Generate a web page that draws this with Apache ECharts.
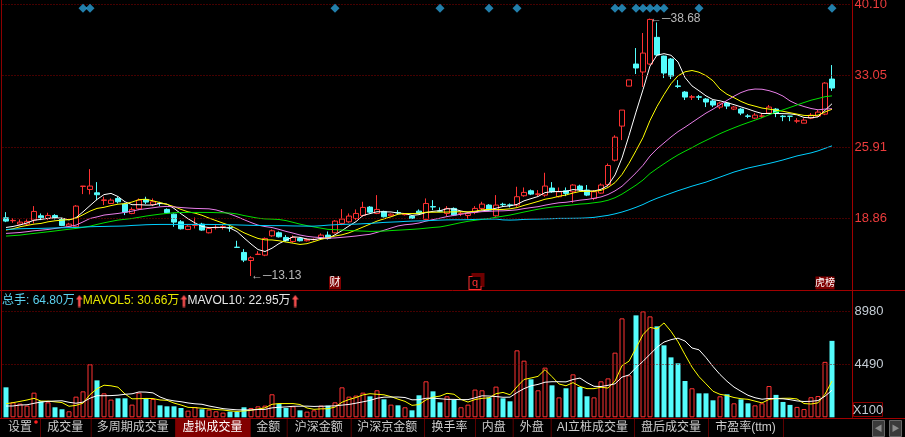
<!DOCTYPE html>
<html><head><meta charset="utf-8">
<script src="https://cdn.jsdelivr.net/npm/echarts@6/dist/echarts.min.js"></script>
<style>html,body{margin:0;padding:0;background:#000;overflow:hidden}#c{width:905px;height:437px}</style>
</head><body><div id="c"></div>
<script>
// ---- data ----
const openP = [18.91,18.62,18.28,18.28,18.68,19.11,18.84,19.14,18.78,18.08,
18.02,22.02,21.72,21.39,20.64,20.33,20.83,20.27,19.34,19.80,
20.73,20.23,20.35,19.74,19.27,18.51,17.75,18.16,18.28,17.42,
17.93,18.00,17.94,15.99,15.47,14.67,15.27,15.20,17.12,17.42,
16.96,16.56,16.86,16.63,16.74,16.86,17.19,17.42,18.35,18.51,
18.84,19.14,19.97,19.34,19.54,19.11,19.43,19.22,19.08,19.57,
18.75,20.02,19.59,19.34,19.84,19.32,19.14,19.44,19.84,20.17,
19.11,20.25,20.19,20.17,21.10,21.59,21.24,21.16,21.86,21.00,
21.59,21.49,22.06,21.66,20.83,21.36,22.20,24.63,28.01,31.98,
34.17,33.38,34.17,36.82,34.96,34.67,32.00,31.39,30.88,30.92,
30.70,30.50,29.90,30.30,29.70,29.70,29.02,28.80,28.98,29.30,
29.70,29.00,29.00,28.50,28.30,28.80,29.00,29.20,32.68];
const closeP = [18.58,18.65,18.48,18.55,19.54,18.91,19.14,18.94,18.15,18.28,
20.07,22.06,22.06,21.20,20.68,20.66,20.50,19.47,19.74,20.66,
20.47,20.50,20.32,19.41,18.48,17.82,18.08,18.20,17.69,17.85,
17.96,18.03,17.90,15.97,14.71,14.94,15.30,16.86,17.62,17.02,
16.63,16.96,16.63,16.76,16.77,17.19,16.86,18.58,18.78,19.08,
19.34,19.94,19.47,19.74,19.01,19.27,19.40,19.25,18.84,19.34,
20.33,19.98,19.56,19.84,19.18,19.35,19.34,19.84,20.27,19.67,
20.17,20.21,20.15,21.00,21.43,21.26,21.28,22.06,21.49,21.49,
21.33,22.16,21.72,21.16,21.49,22.16,24.10,26.91,29.60,32.60,
33.78,35.26,38.60,35.07,33.28,32.98,31.95,30.89,30.92,30.88,
30.40,30.10,30.30,30.00,29.90,29.30,28.98,29.10,29.02,29.90,
29.30,28.95,28.98,28.54,28.60,29.10,29.40,32.28,31.79];
const highP = [19.47,18.88,18.75,18.75,20.07,19.34,19.41,19.27,18.91,18.41,
20.17,22.06,23.74,22.45,21.00,20.83,21.00,20.40,19.94,20.83,
21.00,20.83,20.50,19.84,19.34,18.68,18.18,18.94,18.41,17.95,
18.18,18.18,18.08,16.63,15.80,15.10,15.60,16.96,17.75,17.55,
17.19,17.16,16.96,16.86,16.86,17.36,17.55,18.68,19.77,19.34,
19.74,20.50,20.07,21.16,19.61,19.34,19.67,19.34,19.14,19.74,
20.83,20.66,19.94,20.07,19.94,19.54,19.44,20.07,20.50,20.27,
21.16,20.40,20.33,21.99,21.92,21.72,21.66,23.38,22.45,21.92,
21.92,22.25,22.19,22.16,21.66,22.32,24.30,27.10,29.60,32.60,
35.76,37.25,38.68,38.30,35.00,34.77,32.58,31.49,31.10,31.10,
30.80,30.60,30.40,30.40,30.00,29.80,29.20,29.30,29.30,30.10,
29.80,29.10,29.00,28.80,28.80,29.30,29.60,32.38,34.07];
const lowP = [18.48,18.41,18.18,18.18,18.35,18.68,18.68,18.75,18.08,18.02,
17.95,21.26,21.23,20.66,20.17,20.27,20.33,19.18,19.27,19.67,
20.27,20.07,20.07,19.34,18.02,17.75,17.69,17.85,17.62,17.36,
17.75,17.75,17.52,15.97,14.51,13.13,15.27,15.10,17.02,16.96,
16.53,16.43,16.56,16.56,16.66,16.76,16.76,17.36,18.18,18.41,
18.68,19.01,19.34,19.27,18.94,19.08,19.27,19.14,18.78,19.27,
18.68,19.67,19.47,19.08,19.08,19.08,18.75,19.27,19.67,19.61,
19.01,20.00,19.94,20.00,21.00,21.16,21.06,21.00,21.39,20.93,
21.06,20.40,21.59,21.06,20.66,21.30,22.00,24.50,26.62,31.98,
33.18,31.89,34.07,35.00,32.78,32.68,31.78,30.60,30.60,30.60,
29.90,29.90,29.70,29.70,29.60,29.10,28.80,28.70,28.80,29.20,
28.90,28.50,28.50,28.30,28.30,28.70,28.90,29.10,31.50];
const ma5 = [17.95,18.05,18.2,18.4,18.67,18.75,18.85,18.9,18.88,18.7,
18.92,19.5,20.12,20.73,21.21,21.33,21.02,20.5,20.21,20.21,
20.17,20.17,20.34,20.27,19.84,19.31,18.82,18.4,18.05,17.93,
17.96,17.95,17.89,17.54,16.91,16.31,15.76,15.56,15.89,16.35,
16.69,17.02,16.97,16.8,16.75,16.86,16.84,17.23,17.64,18.1,
18.53,19.14,19.32,19.51,19.5,19.49,19.38,19.33,19.15,19.22,
19.43,19.55,19.61,19.81,19.78,19.58,19.45,19.51,19.6,19.69,
19.86,20.03,20.09,20.24,20.59,20.81,21.02,21.41,21.5,21.52,
21.53,21.71,21.64,21.57,21.57,21.74,22.13,23.16,24.85,27.07,
29.4,31.63,33.97,35.06,35.2,35.04,34.38,32.83,32.0,31.52,
31.01,30.64,30.52,30.34,30.14,29.92,29.7,29.46,29.26,29.26,
29.26,29.25,29.23,29.13,28.87,28.83,28.92,29.58,30.23];
const ma10 = [17.69,17.82,18.02,18.15,18.28,18.35,18.51,18.61,18.68,18.72,
18.87,19.21,19.57,19.84,19.95,20.12,20.26,20.31,20.47,20.71,
20.75,20.59,20.42,20.24,20.02,19.74,19.5,19.37,19.16,18.88,
18.63,18.38,18.14,17.8,17.42,17.13,16.86,16.72,16.71,16.63,
16.5,16.39,16.26,16.34,16.55,16.77,16.93,17.1,17.22,17.42,
17.7,17.99,18.28,18.58,18.8,19.01,19.26,19.33,19.33,19.36,
19.46,19.46,19.47,19.48,19.5,19.51,19.5,19.56,19.7,19.74,
19.72,19.74,19.8,19.92,20.14,20.33,20.53,20.75,20.87,21.05,
21.17,21.37,21.52,21.54,21.54,21.63,21.92,22.4,23.21,24.32,
25.57,26.88,28.57,29.96,31.14,32.22,33.0,33.4,33.53,33.36,
33.02,32.51,31.68,31.17,30.83,30.46,30.17,29.99,29.8,29.7,
29.59,29.48,29.34,29.2,29.07,29.05,29.09,29.41,29.68];
const ma20 = [17.36,17.4,17.45,17.53,17.62,17.68,17.75,17.85,17.95,18.05,
18.18,18.5,18.84,19.0,19.18,19.26,19.34,19.45,19.57,19.72,
19.81,19.9,20.0,20.04,19.99,19.93,19.88,19.84,19.82,19.8,
19.69,19.49,19.28,19.02,18.72,18.44,18.18,18.04,17.94,17.76,
17.56,17.39,17.2,17.07,16.99,16.95,16.89,16.91,16.97,17.03,
17.1,17.19,17.27,17.46,17.67,17.89,18.1,18.22,18.28,18.39,
18.58,18.73,18.87,19.03,19.15,19.26,19.38,19.44,19.52,19.55,
19.59,19.6,19.64,19.7,19.82,19.92,20.01,20.16,20.29,20.4,
20.45,20.55,20.66,20.73,20.84,20.98,21.22,21.58,22.04,22.69,
23.37,24.12,25.04,25.75,26.34,26.93,27.46,27.9,28.37,28.84,
29.3,29.69,30.12,30.56,30.98,31.34,31.59,31.69,31.67,31.53,
31.31,30.99,30.51,30.18,29.95,29.76,29.63,29.7,29.74];
const ma30 = [17.09,17.14,17.19,17.28,17.36,17.44,17.52,17.6,17.69,17.77,
17.85,17.96,18.08,18.25,18.41,18.55,18.68,18.76,18.84,18.96,
19.08,19.18,19.27,19.34,19.41,19.43,19.44,19.44,19.44,19.44,
19.42,19.4,19.38,19.29,19.13,19.0,18.87,18.8,18.78,18.74,
18.63,18.46,18.28,18.13,18.0,17.88,17.76,17.73,17.7,17.65,
17.61,17.59,17.56,17.57,17.59,17.64,17.68,17.72,17.76,17.81,
17.88,17.95,18.0,18.13,18.28,18.43,18.56,18.66,18.75,18.84,
18.96,19.07,19.18,19.33,19.48,19.62,19.76,19.88,19.97,20.05,
20.12,20.19,20.27,20.31,20.4,20.49,20.65,20.9,21.26,21.7,
22.15,22.66,23.3,23.8,24.27,24.73,25.15,25.52,25.87,26.25,
26.59,26.92,27.26,27.56,27.84,28.11,28.36,28.6,28.85,29.13,
29.39,29.62,29.86,30.11,30.35,30.58,30.75,30.93,31.01];
const ma60 = [17.75,17.78,17.82,17.84,17.85,17.86,17.88,17.9,17.92,17.93,
17.95,17.98,18.02,18.04,18.05,18.07,18.08,18.1,18.15,18.18,
18.22,18.24,18.25,18.25,18.25,18.25,18.25,18.25,18.25,18.25,
18.24,18.23,18.22,18.2,18.18,18.16,18.15,18.14,18.13,18.13,
18.12,18.1,18.09,18.08,18.08,18.12,18.18,18.22,18.25,18.27,
18.28,18.32,18.35,18.4,18.45,18.48,18.51,18.55,18.58,18.6,
18.61,18.65,18.68,18.7,18.71,18.71,18.72,18.75,18.78,18.78,
18.78,18.7,18.68,18.7,18.75,18.77,18.78,18.8,18.82,18.85,
18.85,18.86,18.87,18.9,18.95,19.05,19.15,19.3,19.48,19.7,
19.95,20.23,20.56,20.85,21.1,21.35,21.6,21.82,22.05,22.25,
22.45,22.7,22.95,23.2,23.45,23.65,23.85,24.0,24.15,24.3,
24.47,24.65,24.85,25.05,25.2,25.35,25.55,25.8,26.05];
const volume = [2540,1270,1160,990,2090,1355,1270,850,680,510,
1750,2200,4490,3130,2030,1500,1610,1610,1075,2090,
1610,1550,1015,930,930,790,565,870,680,650,
510,400,480,450,850,790,930,990,1950,1160,
790,930,590,480,590,990,990,1270,2540,1750,
1840,2090,1780,2290,1525,1075,1015,850,590,1865,
3050,2200,1270,1780,1470,850,1075,2350,2290,1690,
2600,1610,1355,5675,4800,3220,2290,4210,2710,1690,
2460,3640,2570,1780,1690,3050,3300,5480,8385,3560,
8640,8980,8555,7710,6100,5080,4575,3075,2460,2030,
2030,1440,1780,1950,1185,1525,1185,1015,1185,2650,
1900,1300,1050,880,700,1700,1800,4700,6480];
const volMa5 = [1150,1240,1350,1465,1610,1373,1373,1311,1249,933,
1012,1198,1926,2416,2720,2670,2552,1976,1565,1577,
1599,1587,1468,1439,1207,1043,846,817,767,711,
655,622,544,498,538,594,700,802,1102,1164,
1164,1164,1084,790,676,716,728,864,1276,1508,
1678,1898,2000,1950,1905,1752,1537,1351,1011,1079,
1474,1711,1795,2033,1954,1514,1289,1505,1607,1651,
2001,2108,1909,2586,3208,3332,3468,4039,3446,2824,
2672,2942,2614,2428,2428,2546,2478,3060,4381,4755,
5873,7009,7624,7489,7997,7285,6404,5308,4258,3444,
2834,2207,1948,1846,1677,1576,1525,1372,1219,1512,
1587,1610,1617,1556,1166,1126,1226,1956,3066];
const volMa10 = [955,960,1040,1060,1185,1295,1350,1380,1400,1272,
1193,1286,1619,1833,1827,1841,1875,1951,1991,2149,
2135,2070,1722,1502,1392,1321,1217,1143,1103,959,
849,734,681,633,625,625,661,673,800,851,
879,932,943,946,920,940,946,974,1033,1092,
1197,1313,1432,1613,1707,1715,1718,1676,1481,1492,
1613,1624,1573,1522,1517,1494,1500,1650,1820,1803,
1758,1699,1707,2097,2430,2667,2788,2974,3016,3016,
3002,3205,3327,2937,2626,2609,2710,2837,3405,3592,
4210,4744,5342,5935,6376,6579,6707,6466,5874,5721,
5060,4306,3628,3052,2561,2205,1866,1660,1533,1595,
1582,1568,1495,1388,1339,1357,1418,1787,2295];
const priceTicks = [40.10, 33.05, 25.91, 18.86];
const volTicks = [8980, 4490];
const markerBars = [12,13,48,63,70,74,88,89,91,92,93,94,95,100,119];
const highMark = {bar: 93, value: 38.68};
const lowMark = {bar: 36, value: 13.13};
const eventTags = [{bar: 48, text: '财'}, {bar: 68, text: 'q'}, {bar: 118, text: '虎榜'}];
const tabLabels = ['设置','成交量','多周期成交量','虚拟成交量','金额','沪深金额','沪深京金额','换手率','内盘','外盘','AI立桩成交量','盘后成交量','市盈率(ttm)'];

// ---- style / layout ----
const UP = '#ff3232', DN = '#54fcfc', GRIDRED = '#8c0000';
const F = 'Liberation Sans, Arial, Noto Sans CJK SC, sans-serif';
const N = closeP.length;
const cats = closeP.map((_, i) => String(i + 1));
const candleData = closeP.map((c, i) => [openP[i], c, lowP[i], highP[i]]);
const isUp = i => closeP[i] >= openP[i];
const PRICE_MIN = 11.742, PRICE_MAX = 40.527, VOL_MAX = 10705;
const MARK_ROW = 39.70, TAG_ROW = 12.44;

// thick red up-arrow icon used in the volume legend
const arrowCanvas = document.createElement('canvas');
arrowCanvas.width = 7; arrowCanvas.height = 13;
(function () {
  const c = arrowCanvas.getContext('2d');
  c.fillStyle = '#ff5050';
  c.beginPath(); c.moveTo(3.5, 0.5); c.lineTo(6.8, 5); c.lineTo(0.2, 5); c.closePath(); c.fill();
  c.fillRect(2.3, 4.5, 2.4, 8);
})();

function maLine(data, color, xi) {
  return {type: 'line', data, xAxisIndex: xi, yAxisIndex: xi, showSymbol: false, symbol: 'none',
    lineStyle: {color, width: 1}, itemStyle: {color}, z: 4, silent: true, animation: false, smooth: false};
}

const tagStyles = {
  '财': {backgroundColor: '#7e0000', color: '#ffffff', padding: [1, 0, 0, 0], width: 12, height: 12, align: 'center', lineHeight: 12},
  'q': {backgroundColor: '#000000', color: '#ff3030', borderColor: '#ff3030', borderWidth: 1, padding: [0, 0, 0, 0], width: 11, height: 12, align: 'center', lineHeight: 12,
        shadowColor: '#6e0000', shadowOffsetX: 3, shadowOffsetY: -3, shadowBlur: 0},
  '虎榜': {backgroundColor: '#7e0000', color: '#ffffff', padding: [1, 0, 0, 0], width: 19, height: 12, align: 'center', lineHeight: 12, fontSize: 10}
};

const option = {
  backgroundColor: '#000000',
  animation: false,
  grid: [
    {left: 2.5, width: 847, top: 0, height: 290},
    {left: 2.5, width: 847, top: 291, height: 126.3}
  ],
  xAxis: [0, 1].map(gi => ({type: 'category', gridIndex: gi, data: cats, max: N + 1, boundaryGap: true,
    axisLine: {show: false}, axisTick: {show: false}, axisLabel: {show: false}, splitLine: {show: false}})),
  yAxis: [
    {type: 'value', gridIndex: 0, position: 'right', min: PRICE_MIN, max: PRICE_MAX, offset: 3,
      axisLine: {show: true, lineStyle: {color: '#a00000', width: 1}}, axisTick: {show: false}, axisLabel: {show: false}, splitLine: {show: false}},
    {type: 'value', gridIndex: 1, position: 'right', min: 0, max: VOL_MAX, offset: 3,
      axisLine: {show: true, lineStyle: {color: '#a00000', width: 1}}, axisTick: {show: false}, axisLabel: {show: false}, splitLine: {show: false}}
  ],
  series: [
    {type: 'candlestick', data: candleData, xAxisIndex: 0, yAxisIndex: 0, barWidth: 5, z: 3, silent: true,
      itemStyle: {color: '#000000', color0: DN, borderColor: UP, borderColor0: DN, borderWidth: 1},
      markLine: {silent: true, symbol: ['none', 'none'], animation: false,
        lineStyle: {color: GRIDRED, type: [1, 2], width: 1},
        label: {show: true, position: 'end', distance: 5, color: '#ec3c3c', fontSize: 13, fontFamily: F, formatter: p => Number(p.value).toFixed(2)},
        emphasis: {disabled: true},
        data: priceTicks.map(v => ({yAxis: v}))},
      markPoint: {silent: true, animation: false, symbol: 'circle', symbolSize: 0,
        label: {show: true, position: 'right', distance: 0, color: '#b8b8b8', fontSize: 12, fontFamily: F, formatter: p => '\u2190\u2500' + p.value},
        data: [
          {coord: [highMark.bar - 1, highMark.value], value: highMark.value.toFixed(2)},
          {coord: [lowMark.bar - 1, lowMark.value], value: lowMark.value.toFixed(2)}
        ].concat(eventTags.map(t => ({coord: [t.bar - 1, TAG_ROW], value: t.text,
          label: Object.assign({show: true, position: 'inside', fontSize: 11, fontFamily: F, formatter: t.text}, tagStyles[t.text])})))}
    },
    maLine(ma5, '#ffffff', 0),
    maLine(ma10, '#ffff00', 0),
    maLine(ma20, '#e87ee8', 0),
    maLine(ma30, '#00e000', 0),
    maLine(ma60, '#00d0ff', 0),
    {type: 'scatter', xAxisIndex: 0, yAxisIndex: 0, symbol: 'diamond', symbolSize: 9, silent: true, z: 5,
      itemStyle: {color: '#2a9fd6'}, data: markerBars.map(b => [b - 1, MARK_ROW])},
    {type: 'bar', xAxisIndex: 1, yAxisIndex: 1, barWidth: 5, silent: true, z: 2,
      data: volume.map((v, i) => ({value: v, itemStyle: isUp(i) ? {color: '#000000', borderColor: UP, borderWidth: 1} : {color: DN, borderWidth: 0}})),
      markLine: {silent: true, symbol: ['none', 'none'], animation: false,
        lineStyle: {color: GRIDRED, type: [1, 2], width: 1},
        label: {show: true, position: 'end', distance: 5, color: '#c4ccd4', fontSize: 13, fontFamily: F, formatter: p => String(p.value)},
        emphasis: {disabled: true},
        data: volTicks.map(v => ({yAxis: v}))}
    },
    maLine(volMa5, '#ffff00', 1),
    maLine(volMa10, '#ffffff', 1)
  ],
  graphic: []
};

// frame lines
const g = option.graphic;
g.push({type: 'line', shape: {x1: 1.5, y1: 0, x2: 1.5, y2: 418}, style: {stroke: GRIDRED, lineWidth: 1}, silent: true});
g.push({type: 'line', shape: {x1: 0, y1: 290.5, x2: 905, y2: 290.5}, style: {stroke: '#a00000', lineWidth: 1}, silent: true});
g.push({type: 'line', shape: {x1: 0, y1: 418.5, x2: 905, y2: 418.5}, style: {stroke: '#a00000', lineWidth: 1}, silent: true});
// X100 box
g.push({type: 'rect', shape: {x: 853.5, y: 402.5, width: 29, height: 14}, style: {fill: '#000', stroke: '#8c0000', lineWidth: 1}, silent: true});
g.push({type: 'text', x: 868, y: 410, style: {text: 'X100', fill: '#c4ccd4', font: '13px ' + F, align: 'center', verticalAlign: 'middle'}, silent: true});
// volume legend
const fmtW = v => (v / 100).toFixed(2) + '万';
const LF = '12px ' + F;
g.push({type: 'text', x: 2, y: 301, silent: true, style: {
  text: '{c|总手: ' + fmtW(volume[N - 1]) + '}{s| }{a| }{y|MAVOL5: ' + fmtW(volMa5[N - 1]) + '}{s| }{a| }{w|MAVOL10: ' + fmtW(volMa10[N - 1]) + '}{s| }{a| }',
  verticalAlign: 'middle', font: LF,
  rich: {
    c: {fill: '#5cd2f0', font: LF},
    y: {fill: '#e8e800', font: LF},
    w: {fill: '#e6e6e6', font: LF},
    s: {font: '4px ' + F, fill: '#000'},
    a: {backgroundColor: {image: arrowCanvas}, width: 7, height: 13, font: '1px ' + F}
  }}});
// tab bar
const tabEdges = [0, 40, 90.7, 175, 250, 286.7, 350.7, 424, 475, 512.7, 550.7, 634, 708, 783];
const selectedTab = 3;
tabLabels.forEach((t, i) => {
  const x0 = tabEdges[i], x1 = tabEdges[i + 1];
  if (i === selectedTab) g.push({type: 'rect', shape: {x: x0 + 0.5, y: 419, width: x1 - x0 - 0.5, height: 18}, style: {fill: '#820000'}, silent: true});
  g.push({type: 'text', x: (x0 + x1) / 2, y: 428, silent: true, style: {text: t, fill: i === selectedTab ? '#ffffff' : '#cccccc', font: '12px ' + F, align: 'center', verticalAlign: 'middle'}});
  g.push({type: 'line', shape: {x1: x1 + 0.5, y1: 419, x2: x1 + 0.5, y2: 437}, style: {stroke: '#5c0000', lineWidth: 1}, silent: true});
});
g.push({type: 'circle', shape: {cx: 36, cy: 422, r: 1.8}, style: {fill: '#ff2020'}, silent: true});
// scroll buttons
[[872, '\u25c0'], [889, '\u25b6']].forEach(([x, s]) => {
  g.push({type: 'rect', shape: {x: x + 0.5, y: 420.5, width: 12, height: 16}, style: {fill: '#3a3a3a', stroke: '#666666', lineWidth: 1}, silent: true});
  g.push({type: 'text', x: x + 6.5, y: 428.5, style: {text: s, fill: '#8a8a8a', font: '8px ' + F, align: 'center', verticalAlign: 'middle'}, silent: true});
});

const chart = echarts.init(document.getElementById('c'), null, {renderer: 'canvas'});
chart.setOption(option);
</script>
</body></html>
